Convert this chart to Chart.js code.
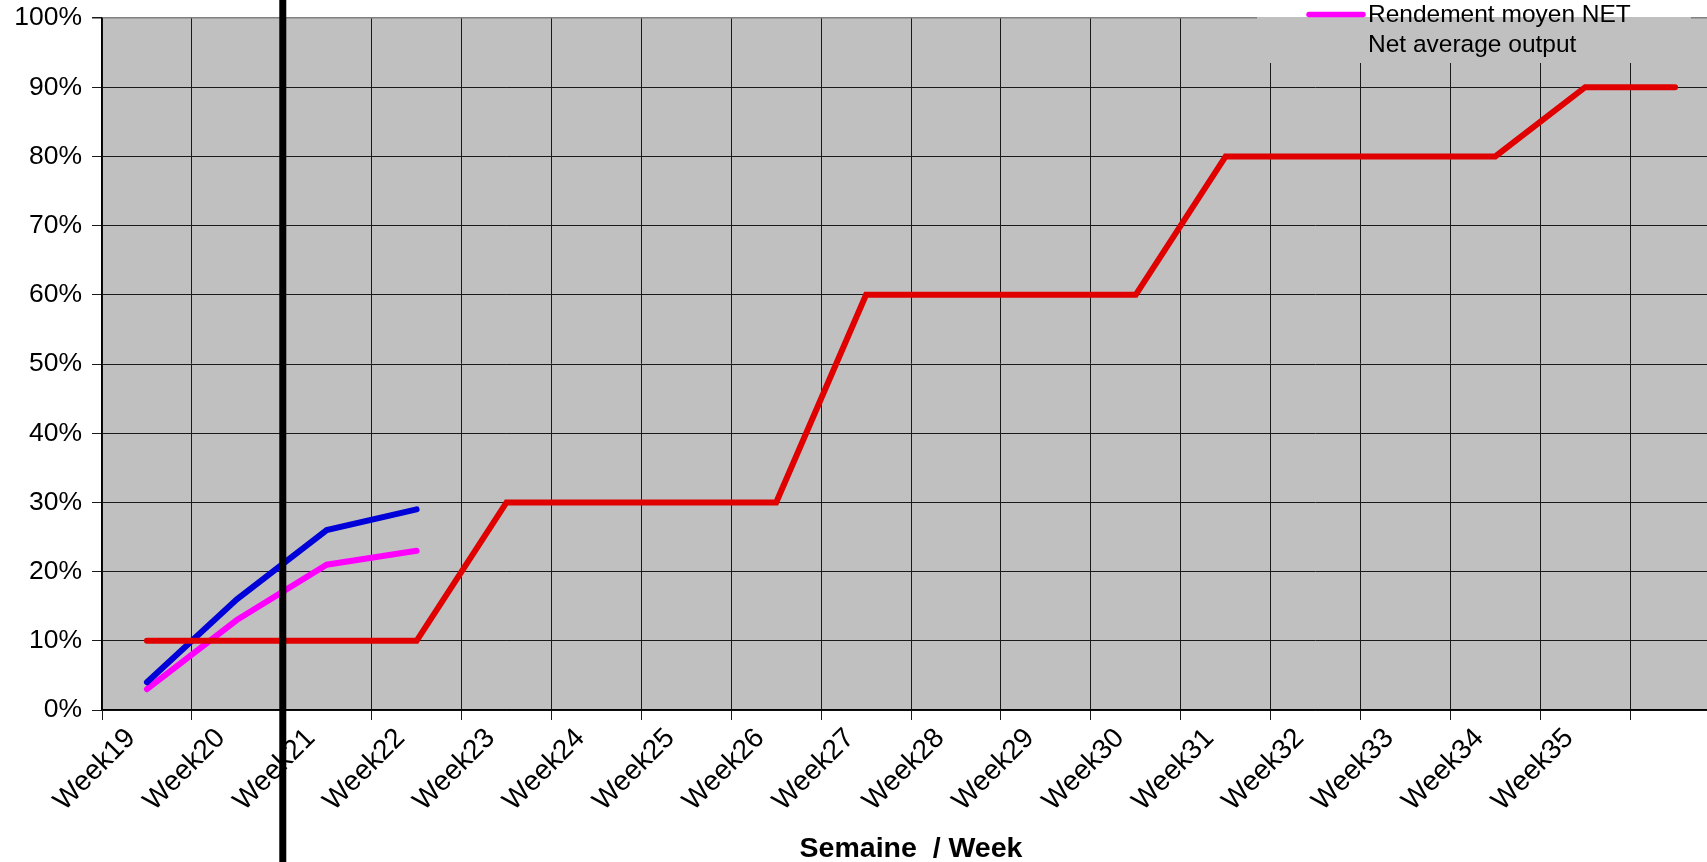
<!DOCTYPE html>
<html>
<head>
<meta charset="utf-8">
<title>Rendement moyen</title>
<script src="https://cdn.jsdelivr.net/npm/chart.js@4/dist/chart.umd.min.js"></script>
<style>
  html, body { margin: 0; padding: 0; background: #ffffff; overflow: hidden; }
  #wrap { position: relative; width: 1722px; height: 862px; }
</style>
</head>
<body>
<div id="wrap"><canvas id="chart"></canvas></div>
<script>
// Weeks on the x axis (the last slot has no label)
const weeks = ['Week19', 'Week20', 'Week21', 'Week22', 'Week23', 'Week24', 'Week25', 'Week26',
  'Week27', 'Week28', 'Week29', 'Week30', 'Week31', 'Week32', 'Week33', 'Week34', 'Week35', ''];

// Target output per week (%)
const objectif = [10, 10, 10, 10, 30, 30, 30, 30, 60, 60, 60, 60, 80, 80, 80, 80, 90, 90];

// Measured output (%)
const rendementBrut = [4, 16, 26, 29];
const rendementNet = [3, 13, 21, 23];

// Y axis ticks (%)
const yTicks = [0, 10, 20, 30, 40, 50, 60, 70, 80, 90, 100];

// Current week marker: sits between these two categories
const markerBetween = [1, 2];

const legendLines = ['Rendement moyen NET', 'Net average output'];

const FONT = '"Liberation Sans", Arial, sans-serif';

const plotBackground = {
  id: 'plotBackground',
  beforeDraw(chart) {
    const { ctx, chartArea: a } = chart;
    ctx.save();
    ctx.fillStyle = '#c0c0c0';
    ctx.fillRect(a.left, a.top, a.right - a.left, a.bottom - a.top);
    ctx.restore();
  }
};

const legendBox = {
  id: 'legendBox',
  afterDatasetsDraw(chart) {
    const { ctx, chartArea: a } = chart;
    ctx.save();
    ctx.fillStyle = '#c0c0c0';
    ctx.fillRect(1257, a.top - 1, 434, 63 - a.top + 1);
    ctx.fillStyle = '#ffffff';
    ctx.fillRect(1257, 0, 434, a.top - 1);
    ctx.strokeStyle = '#ff00ff';
    ctx.lineWidth = 5.5;
    ctx.lineCap = 'round';
    ctx.beginPath();
    ctx.moveTo(1309, 14.5);
    ctx.lineTo(1363, 14.5);
    ctx.stroke();
    ctx.fillStyle = '#000000';
    ctx.font = '24.5px ' + FONT;
    ctx.textBaseline = 'alphabetic';
    ctx.textAlign = 'left';
    ctx.fillText(legendLines[0], 1368, 22);
    ctx.fillText(legendLines[1], 1368, 51.5);
    ctx.restore();
  }
};

const weekMarker = {
  id: 'weekMarker',
  afterDraw(chart) {
    const { ctx } = chart;
    const xs = chart.scales.x;
    const x = (xs.getPixelForValue(markerBetween[0]) + xs.getPixelForValue(markerBetween[1])) / 2;
    ctx.save();
    ctx.strokeStyle = '#000000';
    ctx.lineWidth = 7;
    ctx.beginPath();
    ctx.moveTo(x + 1, 0);
    ctx.lineTo(x + 1, chart.height);
    ctx.stroke();
    ctx.restore();
  }
};

const lineStyle = { fill: false, tension: 0, pointRadius: 0, pointHoverRadius: 0,
  borderCapStyle: 'round', borderJoinStyle: 'miter' };

new Chart(document.getElementById('chart'), {
  type: 'line',
  data: {
    labels: weeks,
    datasets: [
      { label: 'Objectif', data: objectif, borderColor: '#e00000', borderWidth: 6, ...lineStyle },
      { label: 'Rendement moyen BRUT', data: rendementBrut, borderColor: '#0000d8', borderWidth: 6, ...lineStyle },
      { label: legendLines[0], data: rendementNet, borderColor: '#ff00ff', borderWidth: 6, ...lineStyle }
    ]
  },
  options: {
    responsive: true,
    maintainAspectRatio: false,
    animation: false,
    events: [],
    layout: { padding: { top: 18, right: 2, left: 0, bottom: 0 } },
    plugins: { legend: { display: false }, tooltip: { enabled: false } },
    scales: {
      x: {
        type: 'category',
        offset: true,
        afterFit(scale) {
          scale.height = 152;
          scale.paddingLeft = 0;
          scale.paddingRight = 0;
        },
        grid: {
          offset: true,
          color: '#1a1a1a',
          lineWidth: 1,
          tickLength: 10,
          tickColor: '#1a1a1a',
          drawOnChartArea: true
        },
        border: { display: true, color: '#000000', width: 1.5 },
        ticks: {
          autoSkip: false,
          minRotation: 45,
          maxRotation: 45,
          padding: 2,
          labelOffset: -16,
          color: '#000000',
          font: { family: FONT, size: 28 }
        },
        title: {
          display: true,
          text: 'Semaine  / Week',
          color: '#000000',
          font: { family: FONT, size: 28.5, weight: 'bold' },
          padding: { top: 0, bottom: -4 }
        }
      },
      y: {
        min: 0,
        max: 100,
        afterFit(scale) {
          scale.width = 102;
          scale.paddingTop = 0;
          scale.paddingBottom = 0;
        },
        afterBuildTicks(scale) { scale.ticks = yTicks.map(v => ({ value: v })); },
        grid: {
          color: ctx => (ctx.tick && ctx.tick.value === 100 ? '#808080' : '#1a1a1a'),
          lineWidth: ctx => (ctx.tick && ctx.tick.value === 100 ? 1.5 : 1),
          tickLength: 10,
          tickColor: '#1a1a1a'
        },
        border: { display: true, color: '#000000', width: 1.5 },
        ticks: {
          padding: 10,
          color: '#000000',
          font: { family: FONT, size: 26.5 },
          callback: v => v + '%'
        }
      }
    }
  },
  plugins: [plotBackground, legendBox, weekMarker]
});
</script>
</body>
</html>
